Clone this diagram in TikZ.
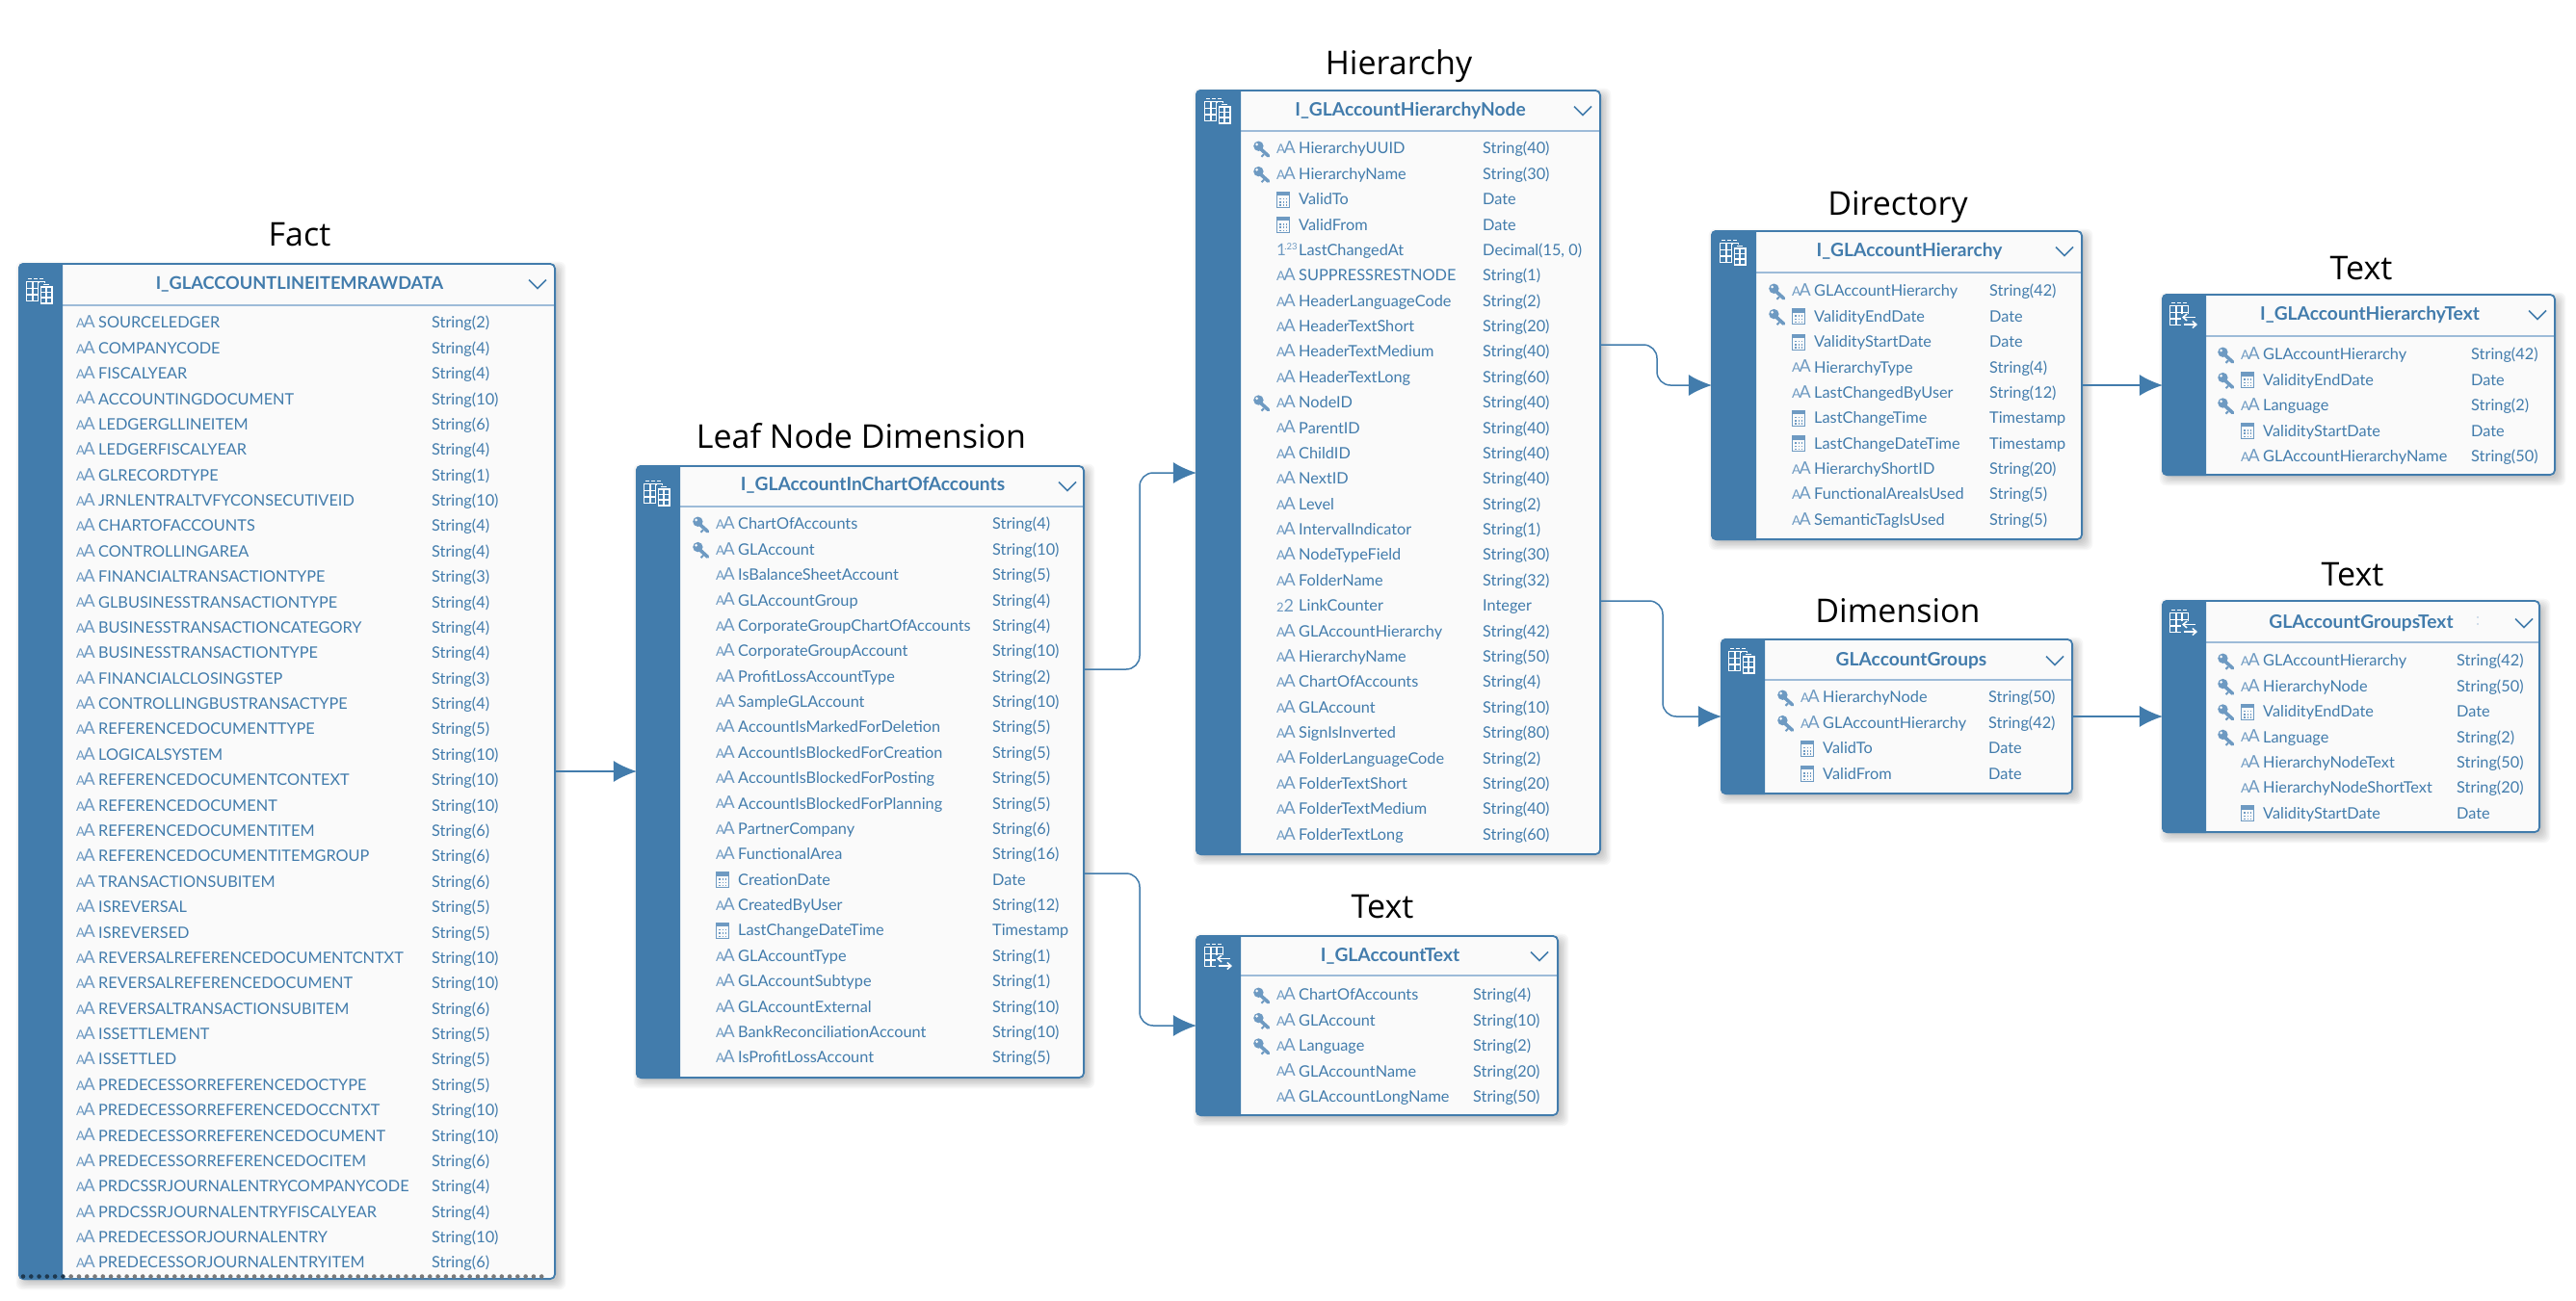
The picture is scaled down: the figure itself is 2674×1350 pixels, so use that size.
\documentclass[tikz,border=0pt]{standalone}
\usepackage{fontspec}
\setmainfont{Lato}
\newfontfamily\titlefam{Open Sans}
\usetikzlibrary{arrows.meta}
\definecolor{sapblue}{HTML}{427CAC}
\definecolor{iconblue}{HTML}{6E9AC2}
\definecolor{headline}{HTML}{9DBBD8}
\definecolor{panel}{HTML}{FAFAFA}
\tikzset{
  x=1pt,y=-1pt,
  tablebox/.style={draw=sapblue,line width=1.8pt,fill=panel,rounded corners=5pt,inner sep=0pt,outer sep=0pt},
  stripe/.style={fill=sapblue},
  headtext/.style={inner sep=0pt,text=sapblue,font=\fontsize{19.2}{21}\selectfont\bfseries,anchor=base},
  capshead/.style={font=\fontsize{18.2}{20}\selectfont\bfseries},
  rowtext/.style={inner sep=0pt,text=sapblue,font=\fontsize{16.3}{18}\selectfont,anchor=base west},
  aatext/.style={inner sep=0pt,text=iconblue,anchor=base west},
  titletext/.style={inner sep=0pt,text=black,font=\titlefam\fontsize{34}{38}\selectfont,anchor=base},
  conn/.style={draw=sapblue,line width=1.5pt,rounded corners=14pt,-{Latex[length=24pt,width=22pt,sharp]}},
  chev/.style={draw=sapblue,line width=1.5pt},
  keyline/.style={draw=iconblue,line width=3.6pt},
  icongrid/.style={draw=white,line width=1.3pt},
}
\newcommand{\TableBox}[7]{% name L T R B stripeR headY
  \foreach \s in {0,...,6}{
    \fill[black,opacity=.032,rounded corners=7pt] ({#2+6-\s*1.4},{#3+7-\s*1.4}) rectangle ({#4+2+\s*1.4},{#5+2+\s*1.4});
  }
  \pgfmathsetmacro{\boxcx}{(#2+#4)/2}\pgfmathsetmacro{\boxcy}{(#3+#5)/2}
  \pgfmathsetmacro{\boxw}{#4-#2-1.8}\pgfmathsetmacro{\boxh}{#5-#3-1.8}
  \node[tablebox,minimum width=\boxw pt,minimum height=\boxh pt] (#1) at (\boxcx,\boxcy) {};
  \draw[headline,line width=1.8pt] (#6,#7) -- (#4-1.8,#7);
  \fill[stripe] (#6,#3) [rounded corners=5pt] -- (#2,#3) -- (#2,#5) [sharp corners] -- (#6,#5) -- cycle;
}
\newcommand{\Chevron}[2]{\draw[chev] (#1-9,#2-4.5) -- (#1,#2+4.5) -- (#1+9,#2-4.5);}
\newcommand{\GridIcon}[2]{% x,y top-left of icon
  \begin{scope}[shift={(#1,#2)}]
    \draw[icongrid,line width=1.6pt] (2,.5) -- (6,.5) (8,.5) -- (12,.5) (14,.5) -- (18,.5);
    \fill[white] (0,3) rectangle (20,24);
    \foreach \gx in {1.4,7.6,13.8}{\foreach \gy in {4.4,11,17.6}{\fill[sapblue] (\gx,\gy) rectangle ++(4.8,5.2);}}
  \end{scope}}
\newcommand{\BuildIcon}[2]{%
  \GridIcon{#1}{#2}
  \begin{scope}[shift={(#1,#2)}]
    \fill[sapblue] (13,5) rectangle (29,28);
    \draw[white,line width=1.4pt] (18,6.2) -- (24,6.2);
    \fill[white] (15,8) rectangle (27.5,27);
    \foreach \gx in {16.2,22}{\foreach \gy in {9.6,15,20.6}{\fill[sapblue] (\gx,\gy) rectangle ++(4.2,4);}}
  \end{scope}}
\newcommand{\TextIcon}[2]{%
  \GridIcon{#1}{#2}
  \begin{scope}[shift={(#1,#2)}]
    \fill[sapblue] (12,12) rectangle (30,29);
    \draw[white,line width=1.5pt,-{Straight Barb[length=4pt,width=7pt]}] (27,15.5) -- (13,15.5);
    \draw[white,line width=1.5pt,-{Straight Barb[length=4pt,width=7pt]}] (15,23) -- (29,23);
  \end{scope}}
\newcommand{\iconkey}[2]{%
  \begin{scope}[shift={(#1,#2)}]
    \draw[keyline,line cap=round] (5,-2) -- (15.5,7.5);
    \fill[iconblue] (5.4,-2.6) circle (5.2);
    \fill[panel] (3.6,-4.4) circle (1.5);
    \draw[iconblue,line width=2pt] (11,6) -- (8.5,8.5);
  \end{scope}}
\newcommand{\iconaa}[3]{%
  \node[aatext,font=\fontsize{13.5}{14}\selectfont] (#3s) at (#1,#2+5.5) {A};
  \node[aatext,font=\fontsize{18}{18}\selectfont] (#3b) at (#1+7.5,#2+5.5) {A};}
\newcommand{\iconcal}[2]{%
  \begin{scope}[shift={(#1,#2)}]
    \fill[iconblue] (.2,-8.4) rectangle (14,-4);
    \draw[iconblue,line width=1.1pt] (.7,-6) rectangle (13.6,8);
    \foreach \gx in {3.4,6.6,9.8}{\foreach \gy in {-1.4,2,5.2}{\fill[iconblue] (\gx,\gy) rectangle ++(1.5,1.5);}}
  \end{scope}}
\newcommand{\iconnum}[3]{%
  \node[aatext,font=\fontsize{17}{18}\selectfont] (#3s) at (#1,#2+6) {1};
  \node[aatext,font=\fontsize{9.5}{10}\selectfont] (#3b) at (#1+8.2,#2) {.23};}
\newcommand{\iconint}[3]{%
  \node[aatext,font=\fontsize{13}{13}\selectfont] (#3s) at (#1,#2+6) {2};
  \node[aatext,font=\fontsize{18}{18}\selectfont] (#3b) at (#1+7.5,#2+6) {2};}
\newcommand{\Rows}[5]{% name firstY aaX typeX list
  \foreach \rowic/\rowname/\rowtype [count=\ri] in {#5}{
    \pgfmathsetmacro{\ry}{#2+1.3+26.38*(\ri-1)}
    \pgfmathsetmacro{\kx}{#3-24}
    \csname rowicon\rowic\endcsname{\kx}{#3}{\ry}{#1r\ri i}
    \node[rowtext] (#1r\ri n) at (#3+23,\ry+5.6) {\rowname};
    \node[rowtext] (#1r\ri t) at (#4,\ry+5.6) {\rowtype};
  }
}
\newcommand{\rowicona}[4]{\iconaa{#2}{#3}{#4}}
\newcommand{\rowiconc}[4]{\iconcal{#2}{#3}}
\newcommand{\rowiconka}[4]{\iconkey{#1}{#3}\iconaa{#2}{#3}{#4}}
\newcommand{\rowiconkc}[4]{\iconkey{#1}{#3}\iconcal{#2}{#3}}
\newcommand{\rowiconn}[4]{\iconnum{#2}{#3}{#4}}
\newcommand{\rowiconi}[4]{\iconint{#2}{#3}{#4}}
\begin{document}
\begin{tikzpicture}
\useasboundingbox (0,0) rectangle (2674,1350);
\fill[white] (0,0) rectangle (2674,1350);

% ---------- Fact
\node[titletext] (tfact) at (311,255) {Fact};
\TableBox{fact}{19}{273}{577}{1329}{65}{317}
\node[headtext,capshead] (hfact) at (311,300.5) {I\_GLACCOUNTLINEITEMRAWDATA};
\BuildIcon{27}{289}
\Chevron{558}{295}
\Rows{fact}{334}{79}{448}{
a/SOURCELEDGER/String(2),a/COMPANYCODE/String(4),a/FISCALYEAR/String(4),a/ACCOUNTINGDOCUMENT/String(10),
a/LEDGERGLLINEITEM/String(6),a/LEDGERFISCALYEAR/String(4),a/GLRECORDTYPE/String(1),a/JRNLENTRALTVFYCONSECUTIVEID/String(10),
a/CHARTOFACCOUNTS/String(4),a/CONTROLLINGAREA/String(4),a/FINANCIALTRANSACTIONTYPE/String(3),a/GLBUSINESSTRANSACTIONTYPE/String(4),
a/BUSINESSTRANSACTIONCATEGORY/String(4),a/BUSINESSTRANSACTIONTYPE/String(4),a/FINANCIALCLOSINGSTEP/String(3),a/CONTROLLINGBUSTRANSACTYPE/String(4),
a/REFERENCEDOCUMENTTYPE/String(5),a/LOGICALSYSTEM/String(10),a/REFERENCEDOCUMENTCONTEXT/String(10),a/REFERENCEDOCUMENT/String(10),
a/REFERENCEDOCUMENTITEM/String(6),a/REFERENCEDOCUMENTITEMGROUP/String(6),a/TRANSACTIONSUBITEM/String(6),a/ISREVERSAL/String(5),
a/ISREVERSED/String(5),a/REVERSALREFERENCEDOCUMENTCNTXT/String(10),a/REVERSALREFERENCEDOCUMENT/String(10),a/REVERSALTRANSACTIONSUBITEM/String(6),
a/ISSETTLEMENT/String(5),a/ISSETTLED/String(5),a/PREDECESSORREFERENCEDOCTYPE/String(5),a/PREDECESSORREFERENCEDOCCNTXT/String(10),
a/PREDECESSORREFERENCEDOCUMENT/String(10),a/PREDECESSORREFERENCEDOCITEM/String(6),a/PRDCSSRJOURNALENTRYCOMPANYCODE/String(4),a/PRDCSSRJOURNALENTRYFISCALYEAR/String(4),
a/PREDECESSORJOURNALENTRY/String(10),a/PREDECESSORJOURNALENTRYITEM/String(6)}
\foreach \dx in {0,1,...,65}{
  \pgfmathsetmacro{\dotx}{24+8.28*\dx}
  \ifnum\dx<6 \fill[black!55!sapblue] (\dotx,1325.5) circle (2.3); \else \fill[black!52] (\dotx,1325.5) circle (2.3); \fi
}

% ---------- Leaf
\node[titletext] (tleaf) at (894,465) {Leaf Node Dimension};
\TableBox{leaf}{660}{483}{1126}{1120}{706}{526}
\node[headtext] (hleaf) at (906,509.5) {I\_GLAccountInChartOfAccounts};
\BuildIcon{668}{499}
\Chevron{1108}{505}
\Rows{leaf}{543}{743}{1030}{
ka/ChartOfAccounts/String(4),ka/GLAccount/String(10),a/IsBalanceSheetAccount/String(5),a/GLAccountGroup/String(4),
a/CorporateGroupChartOfAccounts/String(4),a/CorporateGroupAccount/String(10),a/ProfitLossAccountType/String(2),a/SampleGLAccount/String(10),
a/AccountIsMarkedForDeletion/String(5),a/AccountIsBlockedForCreation/String(5),a/AccountIsBlockedForPosting/String(5),a/AccountIsBlockedForPlanning/String(5),
a/PartnerCompany/String(6),a/FunctionalArea/String(16),c/CreationDate/Date,a/CreatedByUser/String(12),
c/LastChangeDateTime/Timestamp,a/GLAccountType/String(1),a/GLAccountSubtype/String(1),a/GLAccountExternal/String(10),
a/BankReconciliationAccount/String(10),a/IsProfitLossAccount/String(5)}

% ---------- Hierarchy
\node[titletext] (thier) at (1452,77) {Hierarchy};
\TableBox{hier}{1241}{93}{1662}{888}{1288}{136}
\node[headtext] (hhier) at (1464,120) {I\_GLAccountHierarchyNode};
\BuildIcon{1250}{102}
\Chevron{1643}{115}
\Rows{hier}{153}{1325}{1539}{
ka/HierarchyUUID/String(40),ka/HierarchyName/String(30),c/ValidTo/Date,c/ValidFrom/Date,
n/LastChangedAt/{Decimal(15, 0)},a/SUPPRESSRESTNODE/String(1),a/HeaderLanguageCode/String(2),a/HeaderTextShort/String(20),
a/HeaderTextMedium/String(40),a/HeaderTextLong/String(60),ka/NodeID/String(40),a/ParentID/String(40),
a/ChildID/String(40),a/NextID/String(40),a/Level/String(2),a/IntervalIndicator/String(1),
a/NodeTypeField/String(30),a/FolderName/String(32),i/LinkCounter/Integer,a/GLAccountHierarchy/String(42),
a/HierarchyName/String(50),a/ChartOfAccounts/String(4),a/GLAccount/String(10),a/SignIsInverted/String(80),
a/FolderLanguageCode/String(2),a/FolderTextShort/String(20),a/FolderTextMedium/String(40),a/FolderTextLong/String(60)}

% ---------- Text (account)
\node[titletext] (ttext) at (1435,953) {Text};
\TableBox{text}{1241}{971}{1618}{1159}{1288}{1013}
\node[headtext] (htext) at (1443,998) {I\_GLAccountText};
\TextIcon{1250}{980}
\Chevron{1598}{993}
\Rows{text}{1032}{1325}{1529}{
ka/ChartOfAccounts/String(4),ka/GLAccount/String(10),ka/Language/String(2),a/GLAccountName/String(20),a/GLAccountLongName/String(50)}

% ---------- Directory
\node[titletext] (tdir) at (1970,223) {Directory};
\TableBox{dir}{1776}{239}{2162}{561}{1823}{283}
\node[headtext] (hdir) at (1982,266.5) {I\_GLAccountHierarchy};
\BuildIcon{1785}{249}
\Chevron{2143}{261}
\Rows{dir}{301}{1860}{2065}{
ka/GLAccountHierarchy/String(42),kc/ValidityEndDate/Date,c/ValidityStartDate/Date,a/HierarchyType/String(4),
a/LastChangedByUser/String(12),c/LastChangeTime/Timestamp,c/LastChangeDateTime/Timestamp,a/HierarchyShortID/String(20),
a/FunctionalAreaIsUsed/String(5),a/SemanticTagIsUsed/String(5)}

% ---------- Text (hierarchy)
\node[titletext] (thtext) at (2451,290) {Text};
\TableBox{htx}{2244}{305}{2653}{494}{2290}{349}
\node[headtext] (hhtx) at (2460,332.5) {I\_GLAccountHierarchyText};
\TextIcon{2252}{314}
\Chevron{2634}{327}
\Rows{htx}{367}{2326}{2565}{
ka/GLAccountHierarchy/String(42),kc/ValidityEndDate/Date,ka/Language/String(2),c/ValidityStartDate/Date,a/GLAccountHierarchyName/String(50)}

% ---------- Dimension
\node[titletext] (tdim) at (1970,646) {Dimension};
\TableBox{dim}{1786}{663}{2152}{825}{1832}{706}
\node[headtext] (hdim) at (1984,691.5) {GLAccountGroups};
\BuildIcon{1794}{673}
\Chevron{2133}{686}
\Rows{dim}{723}{1869}{2064}{
ka/HierarchyNode/String(50),ka/GLAccountHierarchy/String(42),c/ValidTo/Date,c/ValidFrom/Date}

% ---------- Text (groups)
\node[titletext] (tgtx) at (2442,608) {Text};
\TableBox{gtx}{2244}{623}{2637}{865}{2290}{667}
\node[headtext] (hgtx) at (2451,652.5) {GLAccountGroupsText};
\TextIcon{2252}{633}
\Chevron{2620}{647}
\fill[iconblue!60] (2572,641) circle (.9) (2572,648) circle (.9);
\Rows{gtx}{685}{2326}{2550}{
ka/GLAccountHierarchy/String(42),ka/HierarchyNode/String(50),kc/ValidityEndDate/Date,ka/Language/String(2),
a/HierarchyNodeText/String(50),a/HierarchyNodeShortText/String(20),c/ValidityStartDate/Date}

% ---------- Connectors
\draw[conn] (fact.east |- 0,801) -- (leaf.west |- 0,801);
\draw[conn] (leaf.east |- 0,695) -- (1183,695) -- (1183,491) -- (hier.west |- 0,491);
\draw[conn] (leaf.east |- 0,907) -- (1183,907) -- (1183,1065) -- (text.west |- 0,1065);
\draw[conn] (hier.east |- 0,358) -- (1720,358) -- (1720,400) -- (dir.west |- 0,400);
\draw[conn] (hier.east |- 0,624) -- (1726,624) -- (1726,744) -- (dim.west |- 0,744);
\draw[conn] (dir.east |- 0,400) -- (htx.west |- 0,400);
\draw[conn] (dim.east |- 0,744) -- (gtx.west |- 0,744);
\end{tikzpicture}
\end{document}
